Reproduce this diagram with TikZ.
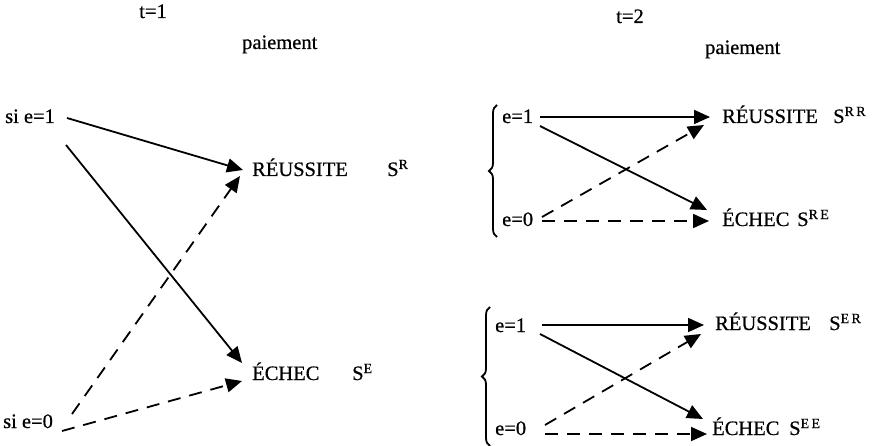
\documentclass[tikz,border=0pt]{standalone}
\usepackage{fontspec}
\setmainfont[FakeBold=0.6]{Liberation Serif}
\usetikzlibrary{arrows.meta,decorations.pathreplacing}
% superscript index set small and raised
\newcommand{\supidx}[1]{\raisebox{7pt}{\fontsize{14}{15}\selectfont #1}}
\begin{document}
\begin{tikzpicture}[x=1pt,y=-1pt,
  lbl/.style={inner sep=0pt,anchor=base west,font=\fontsize{20.5}{24}\selectfont},
  ttl/.style={inner sep=0pt,anchor=base,font=\fontsize{20.5}{24}\selectfont},
  sol/.style={line width=1.8pt,-{Triangle[length=16pt,width=14pt]}},
  dsh/.style={sol,dash pattern=on 13pt off 9pt},
  brc/.style={line width=1.8pt,decorate,decoration={brace,amplitude=8pt}}]
\useasboundingbox (0,0) rectangle (877,446);

% ---- period t=1 ----
\node[ttl] (t1) at (153,18) {t=1};
\node[lbl] (p1) at (242,49) {paiement};
\node[lbl] (se1) at (5,123) {si e=1};
\node[lbl] (se0) at (3,428) {si e=0};
\node[lbl] (reu) at (252,176) {RÉUSSITE};
\node[lbl] (sr) at (387,176) {S\supidx{R}};
\node[lbl] (ech) at (252,380) {ÉCHEC};
\node[lbl] (se) at (352,380) {S\supidx{E}};

\coordinate (a1) at (67,118);  \coordinate (ra) at (243,170);
\coordinate (a2) at (66,145);  \coordinate (ea) at (242,363);
\coordinate (b1) at (72,414);  \coordinate (rb) at (240,176);
\coordinate (b2) at (62,431);  \coordinate (eb) at (242,381);
\draw[sol] (a1) -- (ra);
\draw[sol] (a2) -- (ea);
\draw[dsh] (b1) -- (rb);
\draw[dsh] (b2) -- (eb);

% ---- period t=2 ----
\node[ttl] (t2) at (630,23) {t=2};
\node[lbl] (p2) at (705,54) {paiement};

% branch after a success
\node[lbl] (u1) at (502,123) {e=1};
\node[lbl] (u0) at (502,226) {e=0};
\node[lbl] (reu2) at (722,123) {RÉUSSITE};
\node[lbl] (srr) at (833,123) {S\supidx{R\,R}};
\node[lbl] (ech2) at (722,226) {ÉCHEC};
\node[lbl] (sre) at (797,226) {S\supidx{R\,E}};
\coordinate (ub) at (497,237); \coordinate (ut) at (497,105);
\draw[brc] (ub) -- (ut);

\coordinate (c1) at (540,117); \coordinate (rc1) at (710,117);
\coordinate (c2) at (540,126); \coordinate (ec2) at (707,210);
\coordinate (c3) at (542,217); \coordinate (rc3) at (704,125);
\coordinate (c4) at (542,221); \coordinate (ec4) at (709,221);
\draw[sol] (c1) -- (rc1);
\draw[sol] (c2) -- (ec2);
\draw[dsh] (c3) -- (rc3);
\draw[dsh] (c4) -- (ec4);

% branch after a failure
\node[lbl] (l1) at (495,332) {e=1};
\node[lbl] (l0) at (495,435) {e=0};
\node[lbl] (reu3) at (715,330) {RÉUSSITE};
\node[lbl] (ser) at (829,330) {S\supidx{E\,R}};
\node[lbl] (ech3) at (712,435) {ÉCHEC};
\node[lbl] (see) at (789,435) {S\supidx{E\,E}};
\coordinate (lb) at (490,446); \coordinate (lt) at (490,307);
\draw[brc] (lb) -- (lt);

\coordinate (d1) at (542,325); \coordinate (rd1) at (704,325);
\coordinate (d2) at (540,334); \coordinate (ed2) at (703,419);
\coordinate (d3) at (545,425); \coordinate (rd3) at (701,334);
\coordinate (d4) at (545,434); \coordinate (ed4) at (707,434);
\draw[sol] (d1) -- (rd1);
\draw[sol] (d2) -- (ed2);
\draw[dsh] (d3) -- (rd3);
\draw[dsh] (d4) -- (ed4);
\end{tikzpicture}
\end{document}
